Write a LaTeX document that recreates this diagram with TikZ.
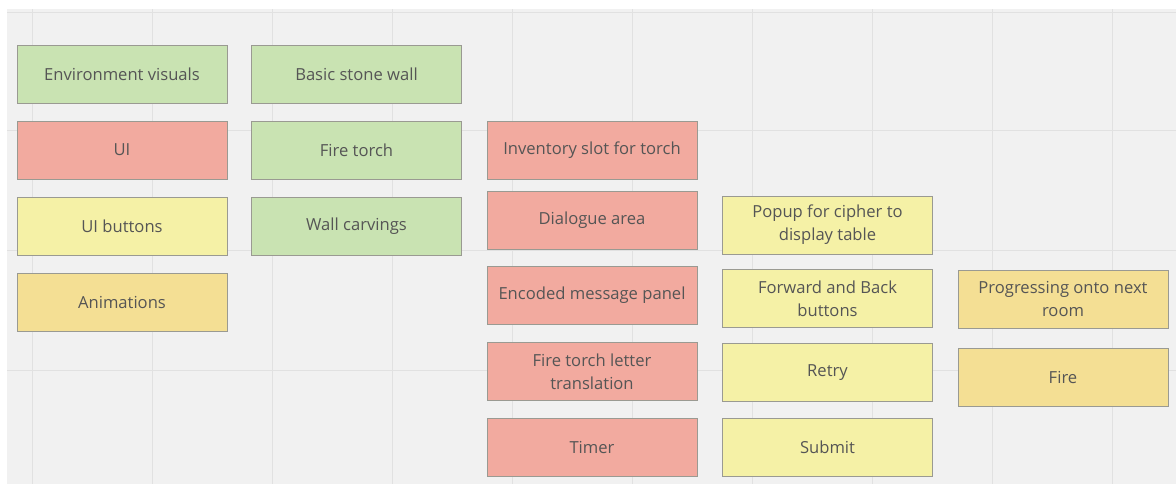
\documentclass[tikz,border=0pt]{standalone}
\usepackage{fontspec}
\setmainfont{Open Sans}
\usetikzlibrary{positioning}
\definecolor{BoardBg}{HTML}{F1F1F1}
\definecolor{BoardGrid}{HTML}{E1E1E1}
\definecolor{CardEdge}{HTML}{9A9A92}
\definecolor{CardText}{HTML}{555555}
\definecolor{CardGreen}{HTML}{C9E3B2}
\definecolor{CardRed}{HTML}{F2AA9F}
\definecolor{CardYellow}{HTML}{F5F1A6}
\definecolor{CardGold}{HTML}{F4DF94}

\begin{document}
\begin{tikzpicture}[
    x=1pt,y=-1pt,
    node distance=17.2pt,
    card/.style={draw=CardEdge,line width=0.8pt,minimum width=210pt,minimum height=58pt,inner sep=2pt,align=center,text=CardText,font=\fontsize{16.6}{22.8}\selectfont},
    green/.style={card,fill=CardGreen},
    red/.style={card,fill=CardRed},
    pale/.style={card,fill=CardYellow},
    gold/.style={card,fill=CardGold}
  ]
    \useasboundingbox (0,0) rectangle (1176,484);
    % board
    \fill[BoardBg] (7,9) rectangle (1176,484);
    \foreach \gx in {32,152,...,1112}
      \draw[BoardGrid,line width=1pt] (\gx,9) -- (\gx,484);
    \foreach \gy in {13,131,250,370}
      \draw[BoardGrid,line width=1pt] (7,\gy) -- (1176,\gy);

    % first two columns
    \node[green] (env) at (122,74) {Environment visuals};
    \node[red,below=of env] (ui) {UI};
    \node[pale,below=of ui] (uibtn) {UI buttons};
    \node[gold,below=of uibtn] (anim) {Animations};
    \node[green] (wall) at (356.5,74) {Basic stone wall};
    \node[green,below=of wall] (torch) {Fire torch};
    \node[green,below=of torch] (carve) {Wall carvings};

    % UI column
    \node[red] (slot) at (592,150) {Inventory slot for torch};
    \node[red] (dialog) at (592,220) {Dialogue area};
    \node[red] (panel) at (592,295.5) {Encoded message panel};
    \node[red] (letter) at (592,371.5) {Fire torch letter\\translation};
    \node[red] (timer) at (592,447) {Timer};

    % buttons column
    \node[pale] (popup) at (827.5,225) {Popup for cipher to\\display table};
    \node[pale] (fwdback) at (827.5,298.5) {Forward and Back\\buttons};
    \node[pale] (retry) at (827.5,372.5) {Retry};
    \node[pale] (submit) at (827.5,447) {Submit};

    % animations column
    \node[gold] (nextroom) at (1063,299) {Progressing onto next\\room};
    \node[gold] (fire) at (1063,377.5) {Fire};
\end{tikzpicture}
\end{document}
